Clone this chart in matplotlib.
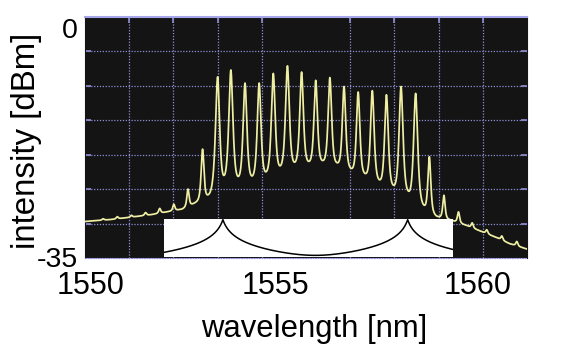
import numpy as np
import matplotlib.pyplot as plt
from matplotlib.transforms import ScaledTranslation, blended_transform_factory

plt.rcParams['font.family'] = ['Liberation Sans', 'DejaVu Sans']

# comb lines: centre wavelength [nm] and peak level [dBm]
peak_wl = [1550.41, 1550.73, 1551.05, 1551.37, 1551.69, 1552.01, 1552.33,
           1552.66, 1553.00, 1553.30, 1553.62, 1553.94, 1554.26, 1554.58,
           1554.90, 1555.22, 1555.54, 1555.86, 1556.18, 1556.50, 1556.82,
           1557.15, 1557.48, 1557.79, 1558.12, 1558.45, 1558.76, 1559.09,
           1559.43, 1559.77]
peak_dbm = [-29.3, -29.0, -28.8, -28.4, -27.8, -27.2, -25.0,
            -19.2, -8.7, -7.7, -9.6, -9.6, -8.2, -7.1,
            -8.0, -9.2, -8.8, -10.1, -10.9, -10.7, -11.3,
            -10.1, -11.1, -20.3, -25.9, -28.3, -29.9, -30.9,
            -31.8, -32.6]

# background level between the lines
floor_wl = [1550.0, 1550.6, 1551.0, 1551.5, 1552.2, 1552.5, 1552.83, 1553.15,
            1553.45, 1553.78, 1554.10, 1554.42, 1554.74, 1555.06, 1555.38,
            1555.70, 1556.02, 1556.34, 1556.66, 1556.98, 1557.31, 1557.63,
            1557.95, 1558.28, 1558.60, 1558.95, 1559.30, 1559.60, 1560.0]
floor_dbm = [-29.7, -29.4, -29.1, -28.7, -27.9, -27.0, -26.1, -24.3,
             -24.1, -23.8, -23.2, -22.4, -21.8, -21.5, -21.3,
             -21.6, -22.4, -23.2, -24.2, -25.1, -26.1, -27.7,
             -29.0, -29.5, -30.2, -31.1, -32.0, -32.9, -33.7]

# filter transmission peaks [nm] and line width [nm]
filter_peak_wl = [1553.12, 1557.30]
filter_width_nm = 0.09

lav = '#8f8fd6'

wl = np.linspace(1550, 1560, 4001)
floor_mw = 10 ** (np.interp(wl, floor_wl, floor_dbm) / 10)
gamma = 0.04
lines_mw = np.zeros_like(wl)
for w0, p in zip(peak_wl, peak_dbm):
    base = 10 ** (np.interp(w0, floor_wl, floor_dbm) / 10)
    amp = max(10 ** (p / 10) - base, 0.0)
    lines_mw += amp / (1 + ((wl - w0) / gamma) ** 2) ** 2
spectrum_dbm = 10 * np.log10(floor_mw + lines_mw)

fig = plt.figure(figsize=(5.72, 3.49), dpi=100)
ax = fig.add_axes([85 / 572, 1 - 258 / 349, 442 / 572, 241 / 349])
ax.set_facecolor('#141414')
ax.plot(wl, spectrum_dbm, color='#efefa4', lw=1.25, zorder=3)
ax.set_xlim(1550, 1560)
ax.set_ylim(-35, 0)

ax.set_xticks([1550, 1555, 1560])
ax.set_xticks(np.arange(1551, 1560), minor=True)
ax.set_yticks([-35, 0])
ax.set_yticks(np.arange(-30, 0, 5), minor=True)
ax.set_xticklabels([])
ax.set_yticklabels([])
ax.grid(which='minor', color=lav, linestyle=(0, (1, 1.3)), lw=0.9)
ax.tick_params(which='major', length=0)
ax.tick_params(axis='x', which='minor', direction='in', length=4,
               color=lav, width=1.2, top=True, bottom=False)
ax.tick_params(axis='y', which='minor', direction='in', length=4,
               color=lav, width=1.2, left=True, right=True)
ax.spines['top'].set_color('#a6a6ea')
ax.spines['top'].set_linewidth(1.5)
ax.spines['bottom'].set_color(lav)
ax.spines['bottom'].set_linestyle((0, (1, 1.3)))
ax.spines['left'].set_color('#141414')
ax.spines['right'].set_color('#141414')

# tick labels, each nudged by a pixel offset
px = 1 / fig.dpi
xlab_tr = blended_transform_factory(ax.transData, ax.transAxes)
for val, dx in zip([1550, 1555, 1560], [6, -31, -49]):
    ax.text(val, 0, str(val), fontsize=22, ha='center', va='top',
            transform=xlab_tr + ScaledTranslation(dx * px, -13 * px, fig.dpi_scale_trans))
ylab_tr = blended_transform_factory(ax.transAxes, ax.transData)
ax.text(0, 0, '0', fontsize=20.5, ha='right', va='top',
        transform=ylab_tr + ScaledTranslation(-7 * px, -1 * px, fig.dpi_scale_trans))
ax.text(0, -35, '-35', fontsize=20.5, ha='right', va='baseline',
        transform=ylab_tr + ScaledTranslation(-7 * px, -9 * px, fig.dpi_scale_trans))

fig.text(314.5 / 572, 1 - 337 / 349, 'wavelength [nm]', fontsize=22.3,
         ha='center', va='baseline')
fig.text(27 / 572, 1 - 140.5 / 349, 'intensity [dBm]', fontsize=23.8,
         rotation=90, ha='center', va='center')

# filter transmission inset (dB scale)
x0, x1 = 1551.79, 1558.33
ins = ax.inset_axes([x0, -34.85, x1 - x0, 5.47], transform=ax.transData)
ins.set_facecolor('white')
wl_f = np.linspace(x0, x1, 3000)
trans = np.zeros_like(wl_f)
for p in filter_peak_wl:
    trans += (1 + np.abs(wl_f - p) / filter_width_nm) ** -4
ins.plot(wl_f, 10 * np.log10(trans), color='black', lw=1.1)
ins.set_xlim(x0, x1)
ins.set_ylim(-54.7, 0.5)
ins.set_xticks([])
ins.set_yticks([])
for s in ins.spines.values():
    s.set_visible(False)

fig.savefig('out.png', dpi=100)
